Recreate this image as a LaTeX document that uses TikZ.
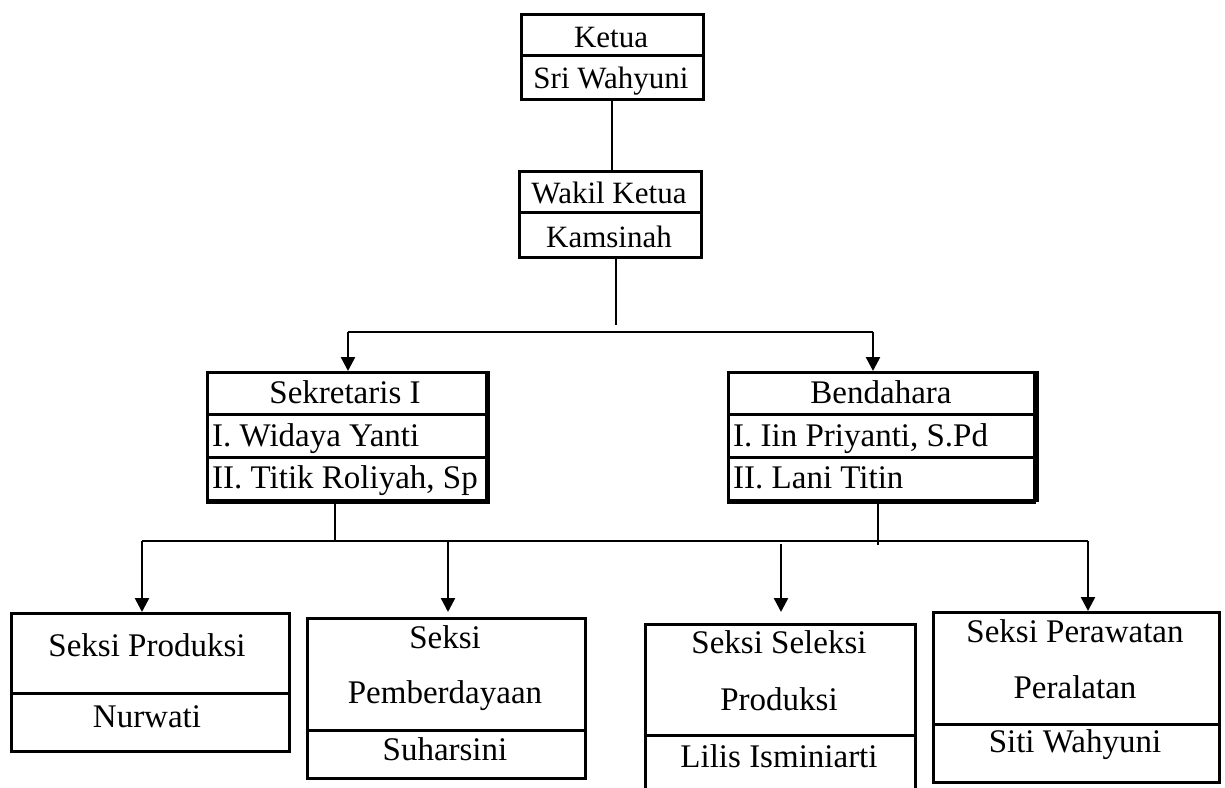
\documentclass[tikz,border=0pt]{standalone}
\usepackage{fontspec}
\setmainfont{Liberation Serif}
\usetikzlibrary{arrows.meta}
\begin{document}
\begin{tikzpicture}[x=1pt,y=-1pt,
  boxshape/.style={draw, line width=3pt, inner sep=0pt, anchor=north west},
  divider/.style={line width=3pt},
  conn/.style={line width=2.5pt},
  arr/.style={line width=2.5pt, -{Triangle[width=14pt,length=14pt]}},
  lbl/.style={anchor=base, inner sep=0pt, font=\fontsize{33}{33}\selectfont},
  lbll/.style={anchor=base west, inner sep=0pt, font=\fontsize{33}{33}\selectfont},
  lbltop/.style={anchor=base, inner sep=0pt, font=\fontsize{31}{31}\selectfont}]
\clip (0,0) rectangle (1225,787);
\fill[white] (0,0) rectangle (1225,787);

% boxes
\node[boxshape, minimum width=182pt, minimum height=85pt] (ketua) at (520,13) {};
\node[boxshape, minimum width=182pt, minimum height=86pt] (wakil) at (518,170) {};
\node[boxshape, minimum width=279pt, minimum height=128pt] (sek) at (206,371) {};
\node[boxshape, minimum width=306pt, minimum height=128pt] (bend) at (727,371) {};
\node[boxshape, minimum width=278pt, minimum height=138pt] (bA) at (10,612) {};
\node[boxshape, minimum width=278pt, minimum height=160pt] (bB) at (306,617) {};
\node[boxshape, minimum width=270pt, minimum height=190pt] (bC) at (644,623) {};
\node[boxshape, minimum width=286pt, minimum height=170pt] (bD) at (932,611) {};

% heavier right/bottom edges
\draw[line width=4.5pt] (sek.north east) -- (sek.south east) -- (sek.south west);
\draw[line width=5pt] (bend.north east) -- (bend.south east);
\draw[line width=4pt] (bend.south east) -- (bend.south west);

% dividers
\draw[divider] (ketua.west |- 0,55) -- (ketua.east |- 0,55);
\draw[divider] (wakil.west |- 0,212) -- (wakil.east |- 0,212);
\draw[divider] (sek.west |- 0,414) -- (sek.east |- 0,414);
\draw[divider] (sek.west |- 0,457) -- (sek.east |- 0,457);
\draw[divider] (bend.west |- 0,414) -- (bend.east |- 0,414);
\draw[divider] (bend.west |- 0,457) -- (bend.east |- 0,457);
\draw[divider] (bA.west |- 0,693) -- (bA.east |- 0,693);
\draw[divider] (bB.west |- 0,730) -- (bB.east |- 0,730);
\draw[divider] (bC.west |- 0,735) -- (bC.east |- 0,735);
\draw[divider] (bD.west |- 0,724) -- (bD.east |- 0,724);

% texts
\node[lbltop] (t1) at (611,47) {Ketua};
\node[lbltop] (t2) at (611,88) {Sri Wahyuni};
\node[lbltop] (t3) at (609,203) {Wakil Ketua};
\node[lbltop] (t4) at (609,247) {Kamsinah};
\node[lbl] (t5) at (345,403) {Sekretaris I};
\node[lbll] (t6) at (212,446) {I. Widaya Yanti};
\node[lbll] (t7) at (212,488) {II. Titik Roliyah, Sp};
\node[lbl] (t8) at (881,403) {Bendahara};
\node[lbll] (t9) at (733,446) {I. Iin Priyanti, S.Pd};
\node[lbll] (t10) at (733,488) {II. Lani Titin};
\node[lbl] (t11) at (147,656) {Seksi Produksi};
\node[lbl] (t12) at (147,727) {Nurwati};
\node[lbl] (t13) at (445,648) {Seksi};
\node[lbl] (t14) at (445,703) {Pemberdayaan};
\node[lbl] (t15) at (445,760) {Suharsini};
\node[lbl] (t16) at (779,653) {Seksi Seleksi};
\node[lbl] (t17) at (779,710) {Produksi};
\node[lbl] (t18) at (779,767) {Lilis Isminiarti};
\node[lbl] (t19) at (1075,642) {Seksi Perawatan};
\node[lbl] (t20) at (1075,698) {Peralatan};
\node[lbl] (t21) at (1075,752) {Siti Wahyuni};

% connectors, upper part
\coordinate (wk) at (616,325);
\coordinate (busAL) at (348,332);
\coordinate (busAR) at (873,332);
\draw[conn] (ketua.south -| 612,0) -- (wakil.north -| 612,0);
\draw[conn] (wakil.south -| wk) -- (wk);
\draw[conn] (busAL) -- (busAR);
\draw[arr] (busAL) -- (sek.north -| busAL);
\draw[arr] (busAR) -- (bend.north -| busAR);

% connectors, lower part
\coordinate (sk) at (335,541);
\coordinate (bd) at (878,545);
\coordinate (busBL) at (142,541);
\coordinate (busBR) at (1088,541);
\coordinate (a2) at (448,541);
\coordinate (a3) at (781,544);
\coordinate (tip2) at (448,612);
\coordinate (tip3) at (781,612);
\draw[conn] (sek.south -| sk) -- (sk);
\draw[conn] (bend.south -| bd) -- (bd);
\draw[conn] (busBL) -- (busBR);
\draw[arr] (busBL) -- (bA.north -| busBL);
\draw[arr] (a2) -- (tip2);
\draw[arr] (a3) -- (tip3);
\draw[arr] (busBR) -- (bD.north -| busBR);
\end{tikzpicture}
\end{document}
